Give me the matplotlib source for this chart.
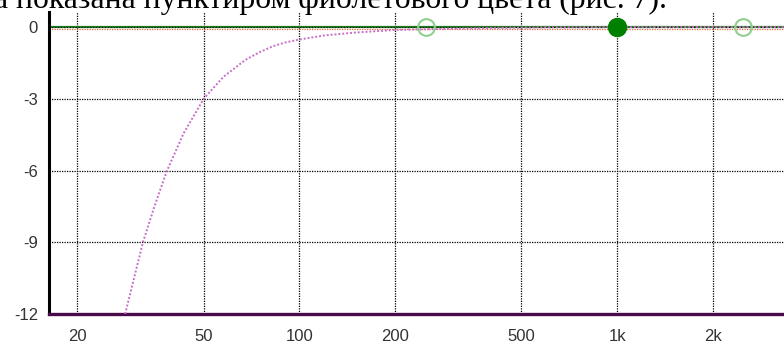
import numpy as np
import matplotlib.pyplot as plt

# Данные
freq = [28.3, 32.2, 34.8, 38.2, 43.2, 50.0, 57.7, 67.5, 75, 82.6, 90, 100, 120, 150, 200, 250, 300, 400, 600, 1000, 3500]
gain = [-12.0, -9.0, -7.6, -6.05, -4.45, -3.0, -2.08, -1.38, -1.05, -0.8, -0.65, -0.52, -0.35, -0.23, -0.12, -0.09, -0.07, -0.04, -0.01, 0.0, 0.0]

open_pts = [250, 2490]
filled_pts = [1000]

xticks = [20, 50, 100, 200, 500, 1000, 2000]
xlabels = ['20', '50', '100', '200', '500', '1k', '2k']
yticks = [0, -3, -6, -9, -12]

caption = 'а показана пунктиром фиолетового цвета (рис. 7).'

fig = plt.figure(figsize=(7.84, 3.43), dpi=100)
ax = fig.add_axes([49 / 784, 1 - 314 / 343, 1 - 49 / 784, 302 / 343])

ax.set_xscale('log')
ax.set_xlim(16.3, 3350)
ax.set_ylim(-12, 0.63)

# сетка
for x in xticks:
    ax.axvline(x, color='black', lw=0.9, ls=(0, (1, 1)), zorder=1)
for y in [-3, -6, -9]:
    ax.axhline(y, color='black', lw=0.9, ls=(0, (1, 1)), zorder=1)

# линия 0 дБ
ax.axhline(0, color='#1f7a1f', lw=1.6, zorder=2)
ax.axhline(0, color='black', lw=0.7, ls=(0, (1, 2)), zorder=3)
ax.axhline(-0.07, color='#f06040', lw=0.9, ls=(0, (1, 1)), zorder=2)

# АЧХ фильтра
ax.plot(freq, gain, color='#c86ec8', lw=1.4, ls=(0, (1, 1)), zorder=4)

# точки
ax.plot(open_pts, [0] * len(open_pts), 'o', ms=12, mfc='none', mec='#8fcf8f', mew=1.5, zorder=5)
ax.plot(filled_pts, [0] * len(filled_pts), 'o', ms=13, mfc='#008000', mec='#008000', zorder=6)

ax.set_xticks(xticks)
ax.set_xticklabels(xlabels)
ax.minorticks_off()
ax.set_yticks(yticks)
ax.set_yticklabels([str(v) for v in yticks])
ax.tick_params(length=0, labelsize=12, colors='#333333', labelfontfamily='Liberation Sans')
ax.tick_params(axis='x', pad=10.5)
ax.tick_params(axis='y', pad=8)

for s in ['top', 'right']:
    ax.spines[s].set_visible(False)
ax.spines['left'].set_color('black')
ax.spines['left'].set_linewidth(2.2)
ax.spines['bottom'].set_color('#4a0a4a')
ax.spines['bottom'].set_linewidth(2.4)

fig.text(-6 / 784, 1 - 8 / 343, caption, fontsize=22.8, family='Liberation Serif',
         ha='left', va='baseline', color='black')

fig.savefig('out.png', dpi=100)
